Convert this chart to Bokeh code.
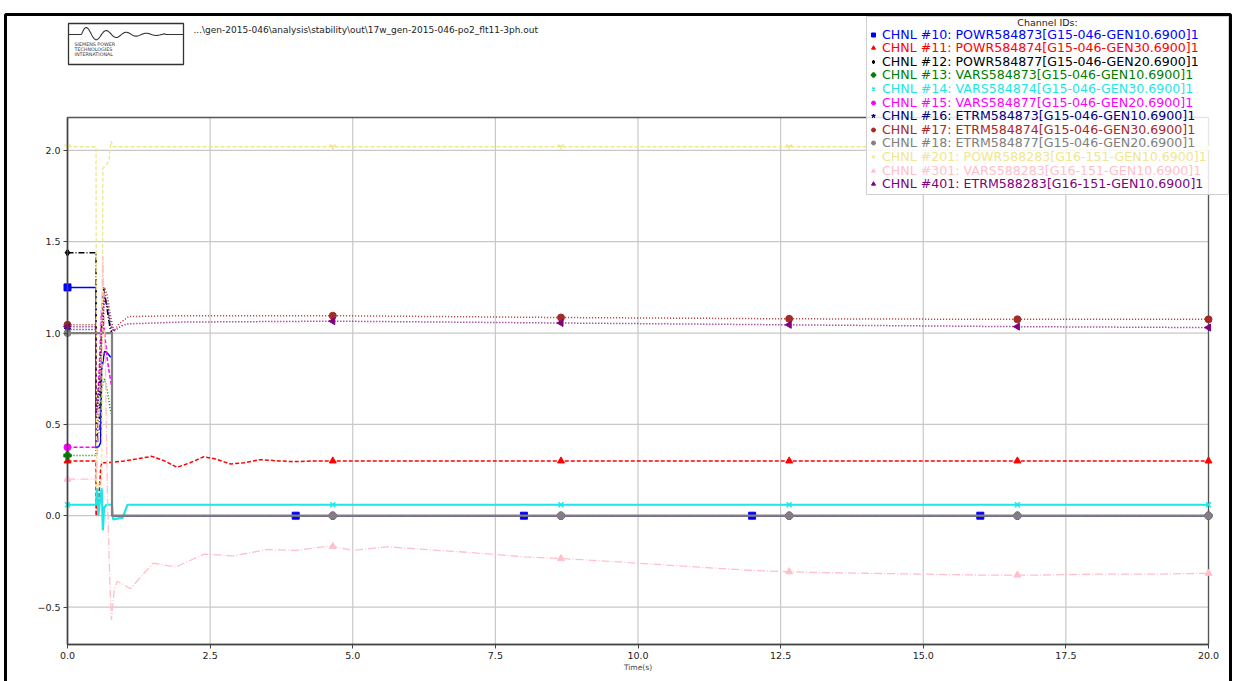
import numpy as np
from bokeh.plotting import figure
from bokeh.models import (Legend, LegendItem, Label, BoxAnnotation, PolyAnnotation,
                          FixedTicker, CustomJSTickFormatter, Range1d)
from bokeh.embed import file_html
from bokeh.resources import INLINE

# ---------------- data ----------------
file_path = "...\\gen-2015-046\\analysis\\stability\\out\\17w_gen-2015-046-po2_flt11-3ph.out"
legend_title = "Channel IDs:"

labels = [
    "CHNL #10: POWR584873[G15-046-GEN10.6900]1",
    "CHNL #11: POWR584874[G15-046-GEN30.6900]1",
    "CHNL #12: POWR584877[G15-046-GEN20.6900]1",
    "CHNL #13: VARS584873[G15-046-GEN10.6900]1",
    "CHNL #14: VARS584874[G15-046-GEN30.6900]1",
    "CHNL #15: VARS584877[G15-046-GEN20.6900]1",
    "CHNL #16: ETRM584873[G15-046-GEN10.6900]1",
    "CHNL #17: ETRM584874[G15-046-GEN30.6900]1",
    "CHNL #18: ETRM584877[G15-046-GEN20.6900]1",
    "CHNL #201: POWR588283[G16-151-GEN10.6900]1",
    "CHNL #301: VARS588283[G16-151-GEN10.6900]1",
    "CHNL #401: ETRM588283[G16-151-GEN10.6900]1",
]

t10 = [0, 0.5, 0.5, 0.55, 0.58, 0.6, 0.65, 0.7, 0.75, 0.78, 0.78, 20]
v10 = [1.25, 1.25, 0.37, 0.38, 0.40, 0.80, 0.90, 0.89, 0.87, 0.87, 0.0, 0.0]

t11 = [0, 0.5, 0.5, 0.55, 0.58, 0.6, 0.7, 1.0, 1.2, 1.48, 1.7, 1.92, 2.15, 2.39, 2.6,
       2.86, 3.1, 3.38, 3.7, 3.97, 4.3, 4.65, 8.0, 12.0, 16.0, 20]
v11 = [0.30, 0.30, 0.0, 0.10, 0.25, 0.29, 0.29, 0.30, 0.31, 0.325, 0.30, 0.265, 0.29,
       0.323, 0.31, 0.283, 0.29, 0.307, 0.30, 0.296, 0.30, 0.30, 0.30, 0.30, 0.30, 0.30]

t12 = [0, 0.5, 0.5, 0.53, 0.56, 0.6, 0.63, 0.66, 0.7, 0.75, 0.78, 0.78, 20]
v12 = [1.44, 1.44, 0.55, 0.40, 0.50, 1.10, 1.25, 1.20, 1.12, 1.02, 1.0, 0.0, 0.0]

t13 = [0, 0.5, 0.5, 0.55, 0.6, 0.65, 0.7, 0.75, 0.78, 0.78, 20]
v13 = [0.33, 0.33, 0.45, 0.55, 0.70, 0.75, 0.68, 0.58, 0.55, 0.0, 0.0]

t14 = [0, 0.5, 0.52, 0.54, 0.56, 0.6, 0.62, 0.64, 0.68, 0.78, 0.8, 0.97, 1.05, 20]
v14 = [0.06, 0.06, 0.15, 0.0, 0.06, 0.15, -0.08, 0.04, 0.06, 0.06, -0.02, -0.01, 0.06, 0.06]

t15 = [0, 0.5, 0.5, 0.55, 0.6, 0.65, 0.7, 0.75, 0.78, 0.78, 20]
v15 = [0.375, 0.375, 0.55, 0.75, 1.15, 1.0, 0.85, 0.75, 0.70, 0.0, 0.0]

t16 = [0, 0.5, 0.5, 0.55, 0.6, 0.65, 0.7, 0.75, 0.78, 0.78, 20]
v16 = [1.02, 1.02, 0.55, 0.65, 0.95, 1.18, 1.15, 1.05, 1.0, 0.0, 0.0]

t17 = [0, 0.5, 0.5, 0.55, 0.6, 0.65, 0.7, 0.75, 0.81, 0.9, 1.07, 2.0, 4.65, 8.65,
       12.65, 16.65, 20]
v17 = [1.045, 1.045, 0.50, 0.60, 1.00, 1.25, 1.20, 1.10, 1.01, 1.05, 1.09, 1.095,
       1.095, 1.085, 1.078, 1.075, 1.075]

t18 = [0, 0.78, 0.78, 20]
v18 = [1.0, 1.0, 0.0, 0.0]

t201 = [0, 0.5, 0.51, 0.6, 0.62, 0.7, 0.73, 0.76, 0.8, 20]
v201 = [2.02, 2.02, 0.15, 0.20, 1.90, 1.93, 1.95, 2.05, 2.02, 2.02]

t301 = [0, 0.5, 0.55, 0.62, 0.66, 0.7, 0.74, 0.77, 0.82, 0.87, 0.95, 1.1, 1.3, 1.5,
        1.9, 2.4, 2.9, 3.5, 4.0, 4.6, 5.0, 5.6, 6.5, 7.0, 8.0, 9.0, 10.0, 11.0, 12.0,
        13.0, 14.0, 15.0, 16.0, 17.0, 18.0, 19.0, 20.0]
v301 = [0.20, 0.20, 0.50, 1.42, 0.90, 0.10, -0.35, -0.57, -0.40, -0.36, -0.37, -0.40,
        -0.33, -0.26, -0.28, -0.21, -0.22, -0.185, -0.19, -0.165, -0.19, -0.17, -0.19,
        -0.20, -0.225, -0.24, -0.26, -0.28, -0.30, -0.31, -0.315, -0.32, -0.325, -0.325,
        -0.32, -0.32, -0.315]

t401 = [0, 0.5, 0.5, 0.55, 0.6, 0.65, 0.7, 0.75, 0.81, 0.95, 1.05, 2.0, 4.65, 8.65,
        12.65, 16.65, 20]
v401 = [1.035, 1.035, 0.55, 0.70, 1.05, 1.20, 1.15, 1.05, 1.01, 1.04, 1.05, 1.06,
        1.065, 1.055, 1.045, 1.035, 1.03]

marks_common = [0, 4.65, 8.65, 12.65, 16.65, 20.0]
marks_blue = [0, 4.0, 8.0, 12.0, 16.0]

x_ticks = [0, 2.5, 5, 7.5, 10, 12.5, 15, 17.5, 20]
y_ticks = [-0.5, 0.0, 0.5, 1.0, 1.5, 2.0]
x_lim = (0.0, 20.0)
y_lim = (-0.705, 2.18)

# ---------------- styling ----------------
series = [
    (t10, v10, "#0000ff", "solid", 1.5, "square", 0, marks_blue),
    (t11, v11, "#ff0000", "4 2", 1.5, "triangle", 0, marks_common),
    (t12, v12, "#000000", "6 2 1 2", 1.5, "diamond", 0, marks_common),
    (t13, v13, "#008000", "1 2", 1.5, "plus", 0, marks_common),
    (t14, v14, "#1ee6e6", "solid", 2.2, "x", 0, marks_common),
    (t15, v15, "#ff00ff", "4 2", 1.5, "circle", 0, marks_common),
    (t16, v16, "#000080", "1 2", 1.5, "star", 0, marks_common),
    (t17, v17, "#a52a2a", "1 2", 1.5, "circle", 0, marks_common),
    (t18, v18, "#808080", "solid", 2.2, "circle", 0, marks_common),
    (t201, v201, "#f0e68c", "4 2", 1.3, "y", 0, marks_common),
    (t301, v301, "#ffc0cb", "8 2 1 2", 1.3, "triangle", 0, marks_common),
    (t401, v401, "#800080", "1 2", 1.5, "triangle", np.pi / 2, marks_common),
]

FONT = "DejaVu Sans"
W, H = 1235, 681
FX0, FX1, FY0, FY1 = 67, 1208, 117, 644   # pixel box of the axes area
sx = (FX1 - FX0) / (x_lim[1] - x_lim[0])
sy = (FY1 - FY0) / (y_lim[1] - y_lim[0])
xr = Range1d(x_lim[0] - FX0 / sx, x_lim[1] + (W - FX1) / sx)
yr = Range1d(y_lim[0] - (H - FY1) / sy, y_lim[1] + FY0 / sy)

p = figure(width=W, height=H, output_backend="svg", toolbar_location=None,
           x_range=xr, y_range=yr, min_border=0,
           background_fill_color="white", border_fill_color="white")
p.title.visible = False
p.outline_line_color = None
p.grid.visible = False

p.xaxis.fixed_location = y_lim[0]
p.yaxis.fixed_location = x_lim[0]
p.xaxis.bounds = x_lim
p.yaxis.bounds = y_lim
p.xaxis.ticker = FixedTicker(ticks=x_ticks)
p.yaxis.ticker = FixedTicker(ticks=y_ticks)
p.xaxis.formatter = CustomJSTickFormatter(code="return tick.toFixed(1).replace('-', '\u2212');")
p.yaxis.formatter = CustomJSTickFormatter(code="return tick.toFixed(1).replace('-', '\u2212');")
for ax in (p.xaxis[0], p.yaxis[0]):
    ax.axis_line_color = "#444444"
    ax.axis_line_width = 1.5
    ax.major_tick_line_color = "#444444"
    ax.major_tick_in = 0
    ax.major_tick_out = 4
    ax.minor_tick_line_color = None
    ax.major_label_text_font = FONT
    ax.major_label_text_font_size = "9.5px"
    ax.major_label_text_color = "#222222"
    ax.major_label_standoff = 3
p.xaxis.axis_label = "Time(s)"
p.xaxis.axis_label_text_font = FONT
p.xaxis.axis_label_text_font_size = "7.5px"
p.xaxis.axis_label_text_font_style = "normal"
p.xaxis.axis_label_standoff = 1

# grid lines at the tick positions, limited to the axes box
p.segment(x0=x_ticks, x1=x_ticks, y0=[y_lim[0]] * len(x_ticks), y1=[y_lim[1]] * len(x_ticks),
          line_color="#c8c8c8", line_width=1.2, level="underlay")
p.segment(x0=[x_lim[0]] * len(y_ticks), x1=[x_lim[1]] * len(y_ticks), y0=y_ticks, y1=y_ticks,
          line_color="#c8c8c8", line_width=1.2, level="underlay")
# axes box (spines)
p.add_layout(BoxAnnotation(left=x_lim[0], right=x_lim[1], bottom=y_lim[0], top=y_lim[1],
                           fill_alpha=0, line_color="#555555", line_alpha=1.0,
                           line_width=1.3, level="underlay"))

marker_renderers = []
for (t, v, col, dash, lw, mk, ang, mt) in series:
    p.line(t, v, line_color=col, line_dash=dash, line_width=lw)
    mv = np.interp(mt, t, v)
    r = p.scatter(mt, mv, marker=mk, size=7, angle=ang, fill_color=col,
                  line_color=col, line_width=1.5 if mk in ("plus", "x", "y") else 1)
    marker_renderers.append(r)

# ---------------- header ----------------
def canvas_box(l, r, t, b, **kw):
    return BoxAnnotation(left=l, right=r, top=t, bottom=b,
                         left_units="canvas", right_units="canvas",
                         top_units="canvas", bottom_units="canvas", **kw)

p.add_layout(canvas_box(5, 1230, 14, 700, fill_alpha=0, line_color="black",
                        line_alpha=1.0, line_width=3, level="overlay"))
p.add_layout(canvas_box(68, 183, 23, 64, fill_alpha=0, line_color="#333333",
                        line_alpha=1.0, line_width=1.3))
# decorative wave of the logo
wx = np.linspace(68, 183, 200)
u = np.clip(wx - 81, 0, None)
wy = 34 - np.where((wx > 81) & (wx < 165), 8 * np.exp(-u / 35.0) * np.sin(2 * np.pi * u / 20.0), 0)
p.add_layout(PolyAnnotation(xs=list(wx) + list(wx[::-1]), ys=list(wy) + list(wy[::-1]),
                            xs_units="canvas", ys_units="canvas",
                            fill_alpha=0, line_color="#333333", line_alpha=1.0,
                            line_width=1.1))
for i, s in enumerate(["SIEMENS POWER", "TECHNOLOGIES", "INTERNATIONAL"]):
    p.add_layout(Label(x=74, y=44 + 5.2 * i, x_units="canvas", y_units="canvas", text=s,
                       text_font=FONT, text_font_size="4.8px", text_color="#333333",
                       text_baseline="middle"))
p.add_layout(Label(x=193, y=29, x_units="canvas", y_units="canvas", text=file_path,
                   text_font=FONT, text_font_size="9px", text_color="#222222",
                   text_baseline="middle"))

# ---------------- legend ----------------
p.add_layout(canvas_box(866, 1228, 16, 194, fill_color="white", fill_alpha=0.85,
                        line_color="#d0d0d0", line_alpha=1.0, line_width=1))
p.add_layout(Label(x=1047, y=22, x_units="canvas", y_units="canvas", text=legend_title,
                   text_font=FONT, text_font_size="9.5px", text_color="#222222",
                   text_align="center", text_baseline="middle"))
for i, (lab, r, s) in enumerate(zip(labels, marker_renderers, series)):
    yc = 35 + 13.6 * i
    lg = Legend(items=[LegendItem(label=lab, renderers=[r])],
                location=(868, H - (yc + 6.5)),
                padding=0, margin=0, spacing=0, glyph_width=10, glyph_height=13,
                label_height=13, label_standoff=4, label_text_font=FONT,
                label_text_font_size="12.6px", label_text_color=s[2],
                border_line_color=None, background_fill_alpha=0)
    p.add_layout(lg)

open("out.html", "w").write(file_html(p, INLINE))
